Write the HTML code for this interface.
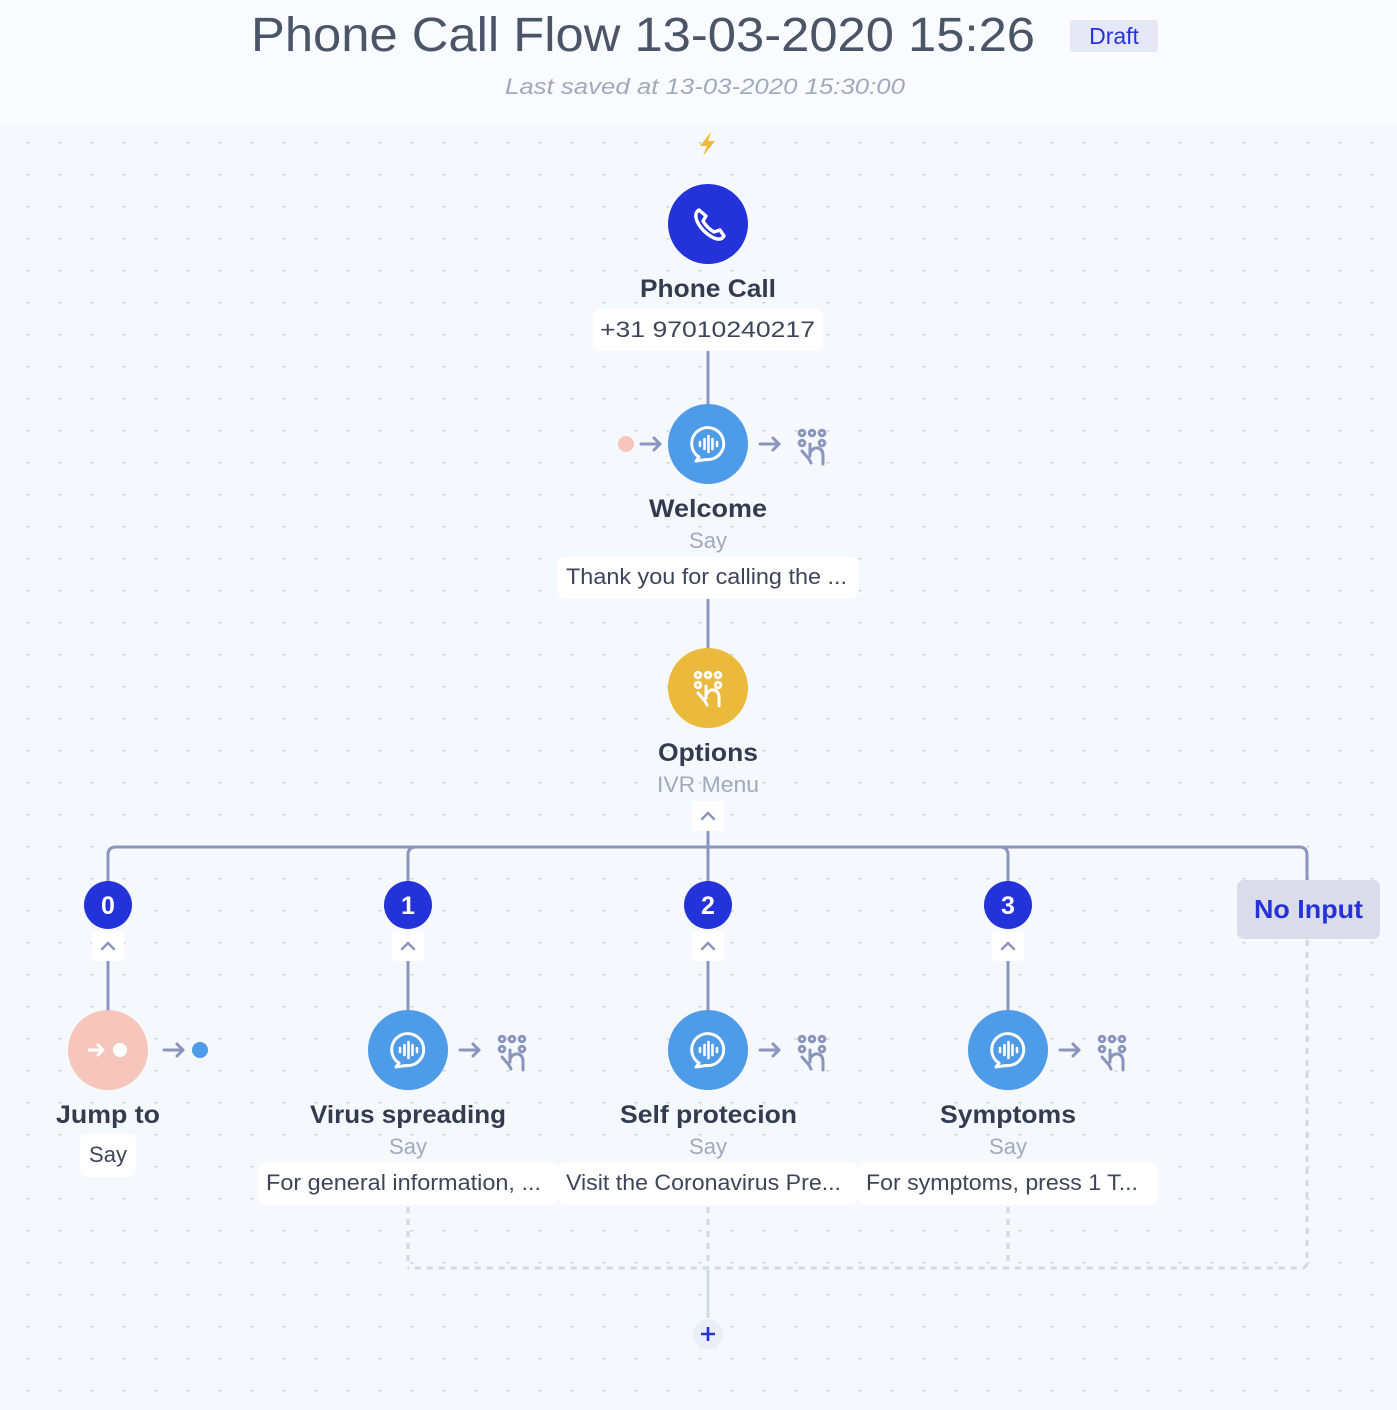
<!DOCTYPE html>
<html><head><meta charset="utf-8"><style>
html,body{margin:0;padding:0;width:1397px;height:1410px;overflow:hidden;background:#f5f8fc;}
svg{display:block;font-family:"Liberation Sans",sans-serif;}
</style></head><body>
<svg width="1397" height="1410" viewBox="0 0 1397 1410" xmlns="http://www.w3.org/2000/svg">
<defs>
<pattern id="dots" x="12" y="14" width="32" height="32" patternUnits="userSpaceOnUse">
<circle cx="16" cy="0" r="1.8" fill="#d2d6df"/>
</pattern>
<g id="say">
<path d="M-9,13 A16,16 0 1 1 -2,15.5 L-12,17 Z" fill="none" stroke="#fff" stroke-width="3" stroke-linejoin="round"/>
<g stroke="#fff" stroke-width="2.6" stroke-linecap="round">
<line x1="-8" y1="-2" x2="-8" y2="2"/><line x1="-3.5" y1="-5" x2="-3.5" y2="5"/><line x1="0.5" y1="-8" x2="0.5" y2="8"/><line x1="4.5" y1="-5" x2="4.5" y2="5"/><line x1="9" y1="-2" x2="9" y2="2"/>
</g>
</g>
<g id="kp">
<g fill="none" stroke-width="3">
<circle cx="-10" cy="-14" r="2.8"/><circle cx="0" cy="-14" r="2.8"/><circle cx="10" cy="-14" r="2.8"/><circle cx="-10" cy="-4" r="2.8"/><circle cx="10" cy="-4" r="2.8"/>
<path d="M-10,4 L-3,12 L-1,16 M-2,9 V-3 M-2,6 Q1,0 6,1 Q11,2 11,9 V17" stroke-linecap="round" stroke-linejoin="round"/>
</g>
</g>
<g id="arrow"><path d="M-10,0 H9 M3,-6 L9,0 L3,6" fill="none" stroke-width="3" stroke-linecap="round" stroke-linejoin="round"/></g>
<g id="chev"><rect x="-16" y="-15" width="32" height="30" rx="3" fill="#fff"/><path d="M-6,3 L0,-3 L6,3" fill="none" stroke="#8a96bd" stroke-width="2.5" stroke-linecap="round"/></g>
</defs>
<rect x="0" y="0" width="1397" height="126" fill="#fafbfe"/>
<rect x="0" y="126" width="1397" height="1284" fill="url(#dots)"/>

<text x="251" y="51" font-size="48" fill="#4a5568" textLength="784" lengthAdjust="spacingAndGlyphs">Phone Call Flow 13-03-2020 15:26</text>
<rect x="1070" y="20" width="88" height="32" rx="3" fill="#e6e8f8"/>
<text x="1114" y="44" text-anchor="middle" font-size="23" fill="#2433d9">Draft</text>
<text x="505" y="94" font-size="22" font-style="italic" fill="#a0aabd" textLength="400" lengthAdjust="spacingAndGlyphs">Last saved at 13-03-2020 15:30:00</text>

<path d="M711,132 L700,146 L707,146 L703,156 L715,141 L708,141 Z" fill="#ecb93a"/>

<g stroke="#8a96bd" stroke-width="3" fill="none">
<line x1="708" y1="350" x2="708" y2="406"/>
<line x1="708" y1="598" x2="708" y2="650"/>
<line x1="708" y1="830" x2="708" y2="882"/>
<path d="M108,882 V855 Q108,847 116,847 H1299 Q1307,847 1307,855 V882"/>
<path d="M408,882 V855 Q408,847 416,847"/>
<path d="M1008,882 V855 Q1008,847 1000,847"/>
<line x1="108" y1="960" x2="108" y2="1012"/>
<line x1="408" y1="960" x2="408" y2="1012"/>
<line x1="708" y1="960" x2="708" y2="1012"/>
<line x1="1008" y1="960" x2="1008" y2="1012"/>
</g>
<g stroke="#d3d8e6" stroke-width="3" fill="none" stroke-dasharray="6,6">
<line x1="408" y1="1207" x2="408" y2="1268"/>
<line x1="708" y1="1207" x2="708" y2="1268"/>
<line x1="1008" y1="1207" x2="1008" y2="1268"/>
<path d="M1307,940 V1262 Q1307,1268 1301,1268 H408"/>
</g>
<line x1="708" y1="1270" x2="708" y2="1318" stroke="#d3d8e6" stroke-width="3"/>
<circle cx="708" cy="1334" r="15" fill="#eaeef9"/>
<path d="M701,1334 H715 M708,1327 V1341" stroke="#2433d9" stroke-width="2.6"/>

<circle cx="708" cy="224" r="40" fill="#2433d9"/>
<path d="M699,210 Q694,213 697,221 Q702,232 714,238 Q721,241 724,236 L720,230 L714,232 Q707,228 703,221 L706,216 Z" fill="none" stroke="#fff" stroke-width="3.4" stroke-linejoin="round"/>
<text x="640" y="297" font-size="25" font-weight="bold" fill="#333b4f" textLength="136" lengthAdjust="spacingAndGlyphs">Phone Call</text>
<rect x="593" y="309" width="230" height="42" rx="8" fill="#fff"/>
<text x="600" y="337" font-size="22" fill="#3d4558" textLength="215" lengthAdjust="spacingAndGlyphs">+31 97010240217</text>

<circle cx="626" cy="444" r="8" fill="#f6c4bb"/>
<use href="#arrow" x="651" y="444" stroke="#8a96bd"/>
<circle cx="708" cy="444" r="40" fill="#4e9be8"/>
<use href="#say" x="708" y="444"/>
<use href="#arrow" x="770" y="444" stroke="#8a96bd"/>
<use href="#kp" x="812" y="447" stroke="#8a96bd"/>
<text x="649" y="517" font-size="25" font-weight="bold" fill="#333b4f" textLength="118" lengthAdjust="spacingAndGlyphs">Welcome</text>
<text x="708" y="548" text-anchor="middle" font-size="22" fill="#a0aabd">Say</text>
<rect x="558" y="557" width="300" height="42" rx="8" fill="#fff"/>
<text x="566" y="584" font-size="22" fill="#3d4558" textLength="281" lengthAdjust="spacingAndGlyphs">Thank you for calling the ...</text>

<circle cx="708" cy="688" r="40" fill="#ebb93b"/>
<use href="#kp" x="708" y="689" stroke="#fff"/>
<text x="658" y="761" font-size="25" font-weight="bold" fill="#333b4f" textLength="100" lengthAdjust="spacingAndGlyphs">Options</text>
<text x="657" y="792" font-size="22" fill="#a0aabd" textLength="102" lengthAdjust="spacingAndGlyphs">IVR Menu</text>
<use href="#chev" x="708" y="816"/>

<g font-size="25" font-weight="bold" fill="#fff" text-anchor="middle">
<circle cx="108" cy="905" r="24" fill="#2433d9"/><text x="108" y="914">0</text>
<circle cx="408" cy="905" r="24" fill="#2433d9"/><text x="408" y="914">1</text>
<circle cx="708" cy="905" r="24" fill="#2433d9"/><text x="708" y="914">2</text>
<circle cx="1008" cy="905" r="24" fill="#2433d9"/><text x="1008" y="914">3</text>
</g>
<use href="#chev" x="108" y="946"/>
<use href="#chev" x="408" y="946"/>
<use href="#chev" x="708" y="946"/>
<use href="#chev" x="1008" y="946"/>

<rect x="1237" y="880" width="143" height="59" rx="7" fill="#dbdcea"/>
<text x="1254" y="918" font-size="26" font-weight="bold" fill="#2433d9" textLength="109" lengthAdjust="spacingAndGlyphs">No Input</text>

<circle cx="108" cy="1050" r="40" fill="#f6c5bb"/>
<path d="M89,1050 H103 M98,1045 L103,1050 L98,1055" fill="none" stroke="#fff" stroke-width="3" stroke-linecap="round" stroke-linejoin="round"/>
<circle cx="120" cy="1050" r="7" fill="#fff"/>
<use href="#arrow" x="174" y="1050" stroke="#8a96bd"/>
<circle cx="200" cy="1050" r="8" fill="#4e9be8"/>
<text x="56" y="1123" font-size="25" font-weight="bold" fill="#333b4f" textLength="104" lengthAdjust="spacingAndGlyphs">Jump to</text>
<rect x="80" y="1134" width="56" height="43" rx="7" fill="#fff"/>
<text x="108" y="1162" text-anchor="middle" font-size="22" fill="#3d4558">Say</text>

<circle cx="408" cy="1050" r="40" fill="#4e9be8"/><use href="#say" x="408" y="1050"/>
<use href="#arrow" x="470" y="1050" stroke="#8a96bd"/><use href="#kp" x="512" y="1053" stroke="#8a96bd"/>
<text x="310" y="1123" font-size="25" font-weight="bold" fill="#333b4f" textLength="196" lengthAdjust="spacingAndGlyphs">Virus spreading</text>
<text x="408" y="1154" text-anchor="middle" font-size="22" fill="#a0aabd">Say</text>
<rect x="258" y="1162" width="300" height="43" rx="8" fill="#fff"/>
<text x="266" y="1190" font-size="22" fill="#3d4558" textLength="275" lengthAdjust="spacingAndGlyphs">For general information, ...</text>

<circle cx="708" cy="1050" r="40" fill="#4e9be8"/><use href="#say" x="708" y="1050"/>
<use href="#arrow" x="770" y="1050" stroke="#8a96bd"/><use href="#kp" x="812" y="1053" stroke="#8a96bd"/>
<text x="620" y="1123" font-size="25" font-weight="bold" fill="#333b4f" textLength="177" lengthAdjust="spacingAndGlyphs">Self protecion</text>
<text x="708" y="1154" text-anchor="middle" font-size="22" fill="#a0aabd">Say</text>
<rect x="558" y="1162" width="300" height="43" rx="8" fill="#fff"/>
<text x="566" y="1190" font-size="22" fill="#3d4558" textLength="275" lengthAdjust="spacingAndGlyphs">Visit the Coronavirus Pre...</text>

<circle cx="1008" cy="1050" r="40" fill="#4e9be8"/><use href="#say" x="1008" y="1050"/>
<use href="#arrow" x="1070" y="1050" stroke="#8a96bd"/><use href="#kp" x="1112" y="1053" stroke="#8a96bd"/>
<text x="940" y="1123" font-size="25" font-weight="bold" fill="#333b4f" textLength="136" lengthAdjust="spacingAndGlyphs">Symptoms</text>
<text x="1008" y="1154" text-anchor="middle" font-size="22" fill="#a0aabd">Say</text>
<rect x="858" y="1162" width="300" height="43" rx="8" fill="#fff"/>
<text x="866" y="1190" font-size="22" fill="#3d4558" textLength="272" lengthAdjust="spacingAndGlyphs">For symptoms, press 1 T...</text>
</svg>
</body></html>
